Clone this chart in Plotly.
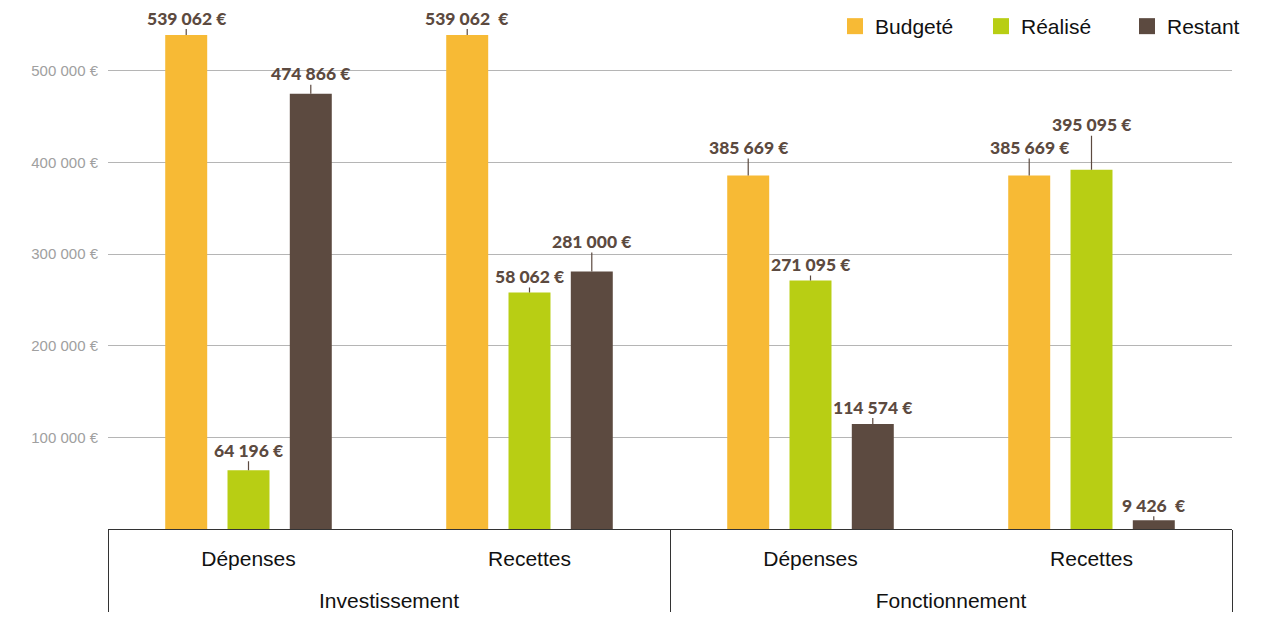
import plotly.graph_objects as go

# ---- data ----
sections = ["Investissement", "Investissement", "Fonctionnement", "Fonctionnement"]
kinds = ["Dépenses", "Recettes", "Dépenses", "Recettes"]
series_names = ["Budgeté", "Réalisé", "Restant"]
budgete = [539062, 539062, 385669, 385669]
realise = [64196, 258062, 271095, 392000]
restant = [474866, 281000, 114574, 9426]
label_budgete = ["539 062 €", "539 062\u00a0\u00a0€", "385 669 €", "385 669 €"]
label_realise = ["64 196 €", "58 062 €", "271 095 €", "395 095 €"]
label_restant = ["474 866 €", "281 000 €", "114 574 €", "9 426\u00a0\u00a0€"]
ytick_vals = [100000, 200000, 300000, 400000, 500000]
ytick_text = ["100 000 €", "200 000 €", "300 000 €", "400 000 €", "500 000 €"]

# ---- styles ----
colors = ["#F7BA35", "#B8CE14", "#5C4A40"]
label_color = "#5C4A40"
label_offsets = [
    [-17, -17, -28, -28],
    [-20, -16, -16, -45],
    [-20, -30, -17, -15],
]
bargap = 0.335
bargroupgap = 0.326

values = [budgete, realise, restant]
labels = [label_budgete, label_realise, label_restant]

# outer level labels pushed one line down
outer = ["<br>" + s for s in sections]

fig = go.Figure()
for name, vals, col in zip(series_names, values, colors):
    fig.add_trace(go.Bar(
        x=[outer, kinds], y=vals, name=name, marker_color=col,
        marker_line_width=0, showlegend=False,
    ))
# legend entries with larger square symbols
for name, col in zip(series_names, colors):
    fig.add_trace(go.Scatter(
        x=[[outer[0]], [kinds[0]]], y=[None], mode="markers", name=name,
        marker=dict(symbol="square", size=20, color=col), showlegend=True,
    ))

slot = (1 - bargap) / 3
annotations = []
for s, (vals, labs) in enumerate(zip(values, labels)):
    for i, (v, lab) in enumerate(zip(vals, labs)):
        annotations.append(dict(
            x=i + (s - 1) * slot, y=v, xref="x", yref="y",
            text=lab, showarrow=True, arrowhead=0, arrowwidth=1.2,
            arrowcolor=label_color, ax=0, ay=label_offsets[s][i], standoff=0,
            font=dict(family="Lato", size=17.5, color=label_color, weight=900),
            borderpad=0,
        ))

fig.update_layout(
    width=1275, height=619,
    margin=dict(l=100, r=51, t=2, b=98, autoexpand=False),
    paper_bgcolor="white", plot_bgcolor="white",
    barmode="group", bargap=bargap, bargroupgap=bargroupgap,
    font=dict(family="Liberation Sans, Arial", color="#111111"),
    annotations=annotations,
    legend=dict(
        orientation="h", x=1.0365, xanchor="right", y=1.0077, yanchor="top",
        font=dict(size=21, color="#111111"), entrywidth=101, entrywidthmode="pixels",
        bgcolor="rgba(0,0,0,0)", traceorder="normal",
    ),
    xaxis=dict(
        type="multicategory", showline=True, linecolor="#333333", linewidth=1.2,
        showdividers=True, dividercolor="#333333", dividerwidth=1.2,
        tickfont=dict(size=21, color="#111111"), showgrid=False,
        ticklabelstandoff=11,
    ),
    yaxis=dict(
        range=[0, 566400], tickvals=ytick_vals, ticktext=ytick_text,
        tickfont=dict(size=15, color="#A0A0A0"), showgrid=True,
        gridcolor="#B5B5B5", gridwidth=1.2, zeroline=False, showline=False,
        ticks="outside", ticklen=6, tickcolor="rgba(0,0,0,0)",
    ),
)

fig.write_html("out.html")
